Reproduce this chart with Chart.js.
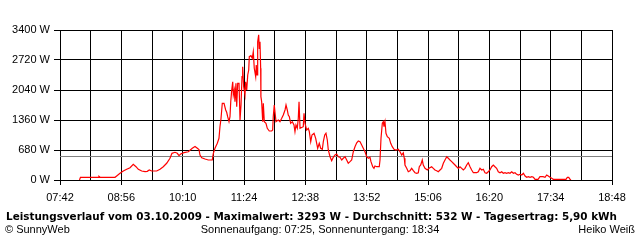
<!DOCTYPE html>
<html>
<head>
<meta charset="utf-8">
<script src="https://cdn.jsdelivr.net/npm/chart.js@4/dist/chart.umd.min.js"></script>
<style>
  html, body { margin: 0; padding: 0; background: #fff; }
  #wrap { position: relative; width: 640px; height: 240px; overflow: hidden; }
  #chart { position: absolute; left: 0; top: 0; }
  .txt { position: absolute; white-space: nowrap; color: #000; font-family: "Liberation Sans", Arial, sans-serif; font-size: 11px; line-height: 13px; }
  #title { left: 0; width: 623px; top: 210px; text-align: center; font-family: "DejaVu Sans", Verdana, sans-serif; font-weight: bold; font-size: 10.4px; }
  #left { left: 5px; top: 223px; }
  #mid { left: 0; width: 640px; top: 223px; text-align: center; }
  #right { right: 5px; top: 223px; }
</style>
</head>
<body>
<div id="wrap">
  <canvas id="chart" width="640" height="240"></canvas>
  <div class="txt" id="title">Leistungsverlauf vom 03.10.2009 - Maximalwert: 3293 W - Durchschnitt: 532 W - Tagesertrag: 5,90 kWh</div>
  <div class="txt" id="left">© SunnyWeb</div>
  <div class="txt" id="mid">Sonnenaufgang: 07:25, Sonnenuntergang: 18:34</div>
  <div class="txt" id="right">Heiko Weiß</div>
</div>
<script>
// time axis in minutes since midnight, 07:42 .. 18:48, grid every 37 min
const timeLabels = ["07:42", "08:56", "10:10", "11:24", "12:38", "13:52", "15:06", "16:20", "17:34", "18:48"];
const avgWatt = 532;

// power readings, minutes of day / watts
const times = [
  485.5, 486.7, 508.2, 509, 510.3, 528.4, 530.4, 534.4, 538.4, 542.5,
  546.5, 550.4, 553.7, 556.5, 560.6, 564.6, 567.3, 569.7, 572.6, 578.7,
  582.7, 586.6, 590.7, 594.7, 597.1, 600.7, 603.5, 605.6, 607.6, 611.6,
  616.8, 621.6, 624.9, 627.7, 629.7, 630.9, 633, 637, 640.9, 645.7,
  647, 649, 651.8, 653.8, 655, 656.2, 657.8, 659.9, 661.9, 663.1,
  664.3, 665.9, 667.1, 668, 669.2, 670.4, 671.1, 672.3, 673.1, 674.3,
  675.2, 676.4, 678, 679.2, 680.4, 681.6, 682.4, 683.6, 685.2, 686,
  687.3, 688.5, 689.7, 690.4, 692.4, 694, 695.2, 696.4, 698.1, 698.8,
  699.7, 700.5, 701.7, 702.4, 703.3, 704.1, 704.4, 705.3, 706.6, 707.3,
  708.5, 710.5, 712.1, 714.5, 717.4, 718.6, 719.3, 720.5, 722.6, 725.4,
  727.4, 729.5, 731.4, 733.5, 734.7, 736.2, 737.4, 738.7, 740.3, 742.3,
  744.3, 745.5, 746.7, 748.3, 749.5, 750.4, 751.6, 755.5, 756.4, 757.6,
  759.6, 761.6, 762.8, 764.5, 766, 768.5, 770.5, 771.7, 772.9, 774.8,
  776.5, 778.5, 779.7, 781.4, 782.9, 784.5, 785.7, 787.8, 789.8, 791.7,
  793.8, 795.8, 797.8, 799.8, 801.9, 803.8, 805.9, 807.9, 809.8, 811.9,
  813.9, 815.9, 817.9, 820, 821.9, 824, 826, 827.9, 830, 832,
  834, 836, 837.2, 839.3, 840.8, 842, 844.1, 847.2, 848.1, 849.3,
  850.9, 852.1, 852.9, 854.1, 855.3, 856.9, 859.3, 861, 862.9, 865,
  867.4, 870.2, 872.2, 874.3, 876.2, 877.4, 878.2, 880.3, 882.2, 884.3,
  886.3, 888.3, 890.3, 892.4, 894.3, 895.5, 897.2, 899.1, 900.3, 902.4,
  905.2, 907.2, 910.4, 912.4, 914.4, 916.5, 918.4, 920.5, 922.5, 924.5,
  926.5, 928.6, 930.5, 932.5, 934.6, 936.5, 938.6, 940.6, 942.6, 944.6,
  946.7, 948.6, 950.6, 952.7, 954.6, 956.7, 958.7, 960.7, 964.7, 966.7,
  968.7, 970.8, 972.7, 974.8, 976.8, 978.7, 980.8, 982.8, 984.8, 986.8,
  988.8, 990.8, 992.9, 994.9, 996.9, 998.9, 1000.9, 1002.9, 1004.9, 1007,
  1009, 1011, 1013, 1015, 1017, 1019.1, 1021.1, 1023.1, 1025.1, 1027.1,
  1029.1, 1031.2, 1033.2, 1035.2, 1038.8, 1041.1, 1044.8, 1047.2, 1049.2, 1051.1,
  1053.2, 1055.2, 1057.2, 1072.5, 1074.1, 1075.8, 1077.3, 1078.5
];
const watts = [
  0, 61, 61, 84, 61, 61, 91, 152, 204, 243,
  279, 356, 301, 243, 204, 188, 197, 227, 204, 204,
  243, 301, 379, 492, 605, 628, 605, 551, 589, 619,
  641, 719, 759, 719, 691, 567, 505, 476, 453, 453,
  605, 719, 832, 945, 1208, 1383, 1739, 1739, 1587, 1535,
  1435, 1322, 1435, 1775, 2040, 2228, 1927, 2040, 1775, 2192,
  1661, 2192, 2192, 1360, 1700, 2341, 2568, 2115, 1927, 2228,
  2040, 2380, 2493, 2795, 2818, 2759, 2908, 2532, 2341, 2607,
  2380, 3135, 3293, 2985, 3135, 2532, 1888, 1775, 1322, 1739,
  1322, 1285, 1172, 1111, 1111, 1133, 1435, 1700, 1322, 1360,
  1322, 1399, 1473, 1587, 1700, 1587, 1473, 1435, 1285, 1322,
  1247, 1095, 1247, 1172, 1399, 1775, 1172, 1208, 1512, 1285,
  1133, 1172, 1095, 868, 1020, 1059, 945, 832, 719, 832,
  719, 696, 868, 1020, 1059, 907, 680, 528, 437, 515,
  567, 589, 528, 515, 453, 492, 528, 453, 379, 415,
  453, 641, 755, 845, 884, 868, 793, 719, 641, 528,
  492, 515, 415, 301, 265, 317, 301, 301, 453, 945,
  1285, 1322, 1208, 1322, 1059, 981, 945, 832, 755, 696,
  680, 696, 641, 567, 619, 492, 340, 265, 188, 211,
  265, 211, 165, 152, 165, 301, 340, 453, 340, 265,
  227, 265, 301, 265, 227, 211, 188, 227, 265, 379,
  453, 528, 492, 453, 415, 379, 340, 301, 265, 301,
  265, 227, 265, 340, 392, 301, 227, 165, 165, 188,
  265, 227, 243, 165, 152, 188, 227, 301, 340, 301,
  265, 188, 165, 188, 152, 165, 152, 165, 152, 188,
  152, 165, 129, 113, 129, 113, 152, 91, 61, 75,
  61, 75, 61, 16, 16, 75, 75, 61, 113, 91,
  61, 39, 16, 16, 61, 61, 16, 0
];

const powerPoints = times.map((t, i) => ({ x: t, y: watts[i] }));

const ctx = document.getElementById("chart").getContext("2d");
const chart = new Chart(ctx, {
  type: "line",
  data: {
    datasets: [
      {
        label: "Leistung",
        data: powerPoints,
        borderColor: "#ff0000",
        borderWidth: 1.2,
        pointRadius: 0,
        tension: 0,
      },
      {
        label: "Durchschnitt",
        data: [{ x: 462, y: avgWatt }, { x: 1128, y: avgWatt }],
        borderColor: "#808080",
        borderWidth: 1,
        pointRadius: 0,
      },
    ],
  },
  options: {
    responsive: false,
    animation: false,
    events: [],
    layout: { padding: { top: 30, right: 28, bottom: 36, left: 0 } },
    plugins: {
      legend: { display: false },
      tooltip: { enabled: false },
    },
    scales: {
      x: {
        type: "linear",
        min: 462,
        max: 1128,
        afterFit: (s) => { s.height = 24; },
        afterBuildTicks: (s) => {
          const ticks = [];
          for (let v = 462; v <= 1128; v += 37) ticks.push({ value: v });
          s.ticks = ticks;
        },
        ticks: {
          autoSkip: false,
          maxRotation: 0,
          padding: 6,
          color: "#000",
          font: { family: "Liberation Sans", size: 11 },
          callback: (v, i) => (i % 2 === 0 ? timeLabels[i / 2] : ""),
        },
        grid: {
          color: "#000",
          lineWidth: 1,
          tickLength: 5,
          tickColor: (c) => (c.index % 2 === 0 ? "#000" : "rgba(0,0,0,0)"),
        },
        border: { color: "#000" },
      },
      y: {
        min: 0,
        max: 3400,
        afterFit: (s) => { s.width = 60; },
        ticks: {
          stepSize: 680,
          padding: 4,
          color: "#000",
          font: { family: "Liberation Sans", size: 11 },
          callback: (v) => v + " W",
        },
        grid: { color: "#000", lineWidth: 1, tickLength: 6 },
        border: { color: "#000" },
      },
    },
  },
});
</script>
</body>
</html>
